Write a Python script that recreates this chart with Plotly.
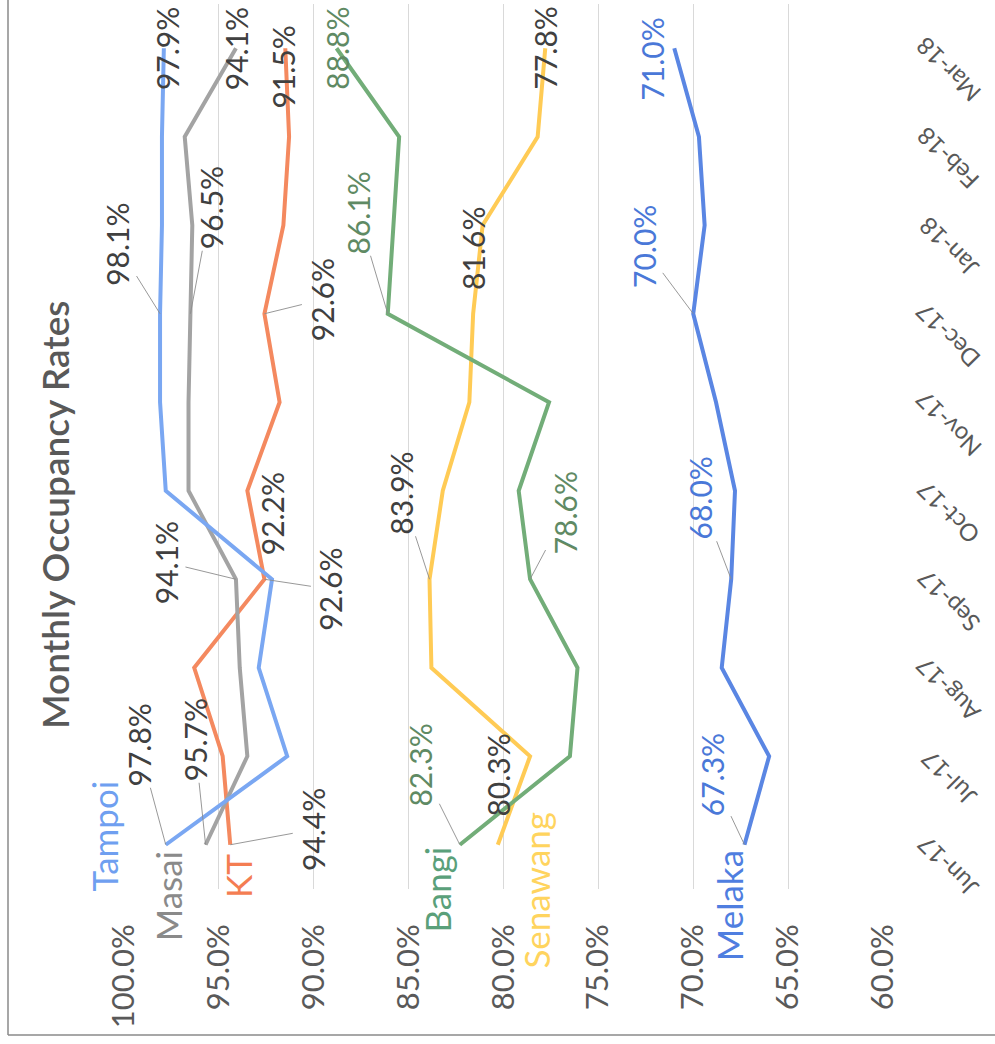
import plotly.graph_objects as go

# ---- data -------------------------------------------------------------
months = ["Jun-17", "Jul-17", "Aug-17", "Sep-17", "Oct-17",
          "Nov-17", "Dec-17", "Jan-18", "Feb-18", "Mar-18"]

tampoi = [97.8, 91.4, 92.9, 92.2, 97.8, 98.1, 98.1, 98.0, 98.0, 97.9]
masai = [95.7, 93.5, 93.9, 94.1, 96.6, 96.6, 96.5, 96.4, 96.8, 94.1]
kt = [94.4, 94.8, 96.3, 92.6, 93.5, 91.8, 92.6, 91.6, 91.3, 91.5]
bangi = [82.3, 76.5, 76.1, 78.6, 79.2, 77.6, 86.1, 85.8, 85.5, 88.8]
senawang = [80.3, 78.6, 83.8, 83.9, 83.2, 81.8, 81.6, 81.1, 78.2, 77.8]
melaka = [67.3, 66.0, 68.5, 68.0, 67.8, 68.8, 70.0, 69.4, 69.7, 71.0]

series_names = ["Tampoi", "Masai", "KT", "Bangi", "Senawang", "Melaka"]
series_values = [tampoi, masai, kt, bangi, senawang, melaka]

value_ticks = [60, 65, 70, 75, 80, 85, 90, 95, 100]

# ---- styling ----------------------------------------------------------
FONT = "Lato"
W, H = 995, 1044
ML, MR, MT, MB = 124, 112, 4, 155
PW, PH = W - ML - MR, H - MT - MB

line_colors = {
    "Tampoi": "#7aa7f2",
    "Masai": "#a3a3a3",
    "KT": "#f4895f",
    "Bangi": "#72ad78",
    "Senawang": "#ffcb55",
    "Melaka": "#5a86e3",
}
name_colors = {
    "Tampoi": "#6f9ff0",
    "Masai": "#8a8a8a",
    "KT": "#f47d52",
    "Bangi": "#5aa07a",
    "Senawang": "#ffd45e",
    "Melaka": "#4f7ee0",
}
value_label_colors = {
    "Tampoi": "#404040",
    "Masai": "#404040",
    "KT": "#404040",
    "Bangi": "#5f8a64",
    "Senawang": "#404040",
    "Melaka": "#4a78d8",
}

# value-label placement: (month index, dx px, dy px, leader line)
label_place = {
    "Tampoi": [(0, -27, -100, True), (3, 0, -65, False), (6, -43, -69, True), (9, 3, 0, False)],
    "Masai": [(0, -11, -105, True), (3, -70, -17, True), (6, 20, -106, True), (9, 0, 0, False)],
    "KT": [(0, 82, -15, True), (3, 66, 10, True), (6, 57, -14, True), (9, -2, 19, False)],
    "Bangi": [(0, -40, -80, True), (3, 35, -66, True), (6, -30, -101, True), (9, 1, 0, False)],
    "Senawang": [(0, 0, -70, False), (3, -28, -86, True), (6, 0, -65, False), (9, 0, 0, False)],
    "Melaka": [(0, -33, -70, True), (3, -31, -81, True), (6, -50, -67, True), (9, -22, 11, False)],
}
# series-name placement relative to the first point: (dx px, dy px)
name_place = {
    "Tampoi": (-62, -9),
    "Masai": (-38, 52),
    "KT": (7, 31),
    "Bangi": (-23, 45),
    "Senawang": (38, 45),
    "Melaka": (-16, 61),
}


def px_to_paper(x, y):
    return (x - ML) / PW, (H - MB - y) / PH


fig = go.Figure()

for name, vals in list(zip(series_names, series_values))[::-1]:
    fig.add_trace(go.Scatter(
        x=vals, y=months, mode="lines", name=name,
        line=dict(color=line_colors[name], width=4),
        showlegend=False, hoverinfo="skip",
    ))

annotations = []

# value labels
for name, vals in zip(series_names, series_values):
    for idx, dx, dy, leader in label_place[name]:
        a = dict(
            x=vals[idx], y=months[idx], xref="x", yref="y",
            text=f"{vals[idx]:.1f}%", textangle=-90,
            font=dict(family=FONT, size=30, color=value_label_colors[name]),
        )
        if leader:
            a.update(showarrow=True, ax=dx, ay=dy, arrowhead=0,
                     arrowwidth=0.9, arrowcolor="#8c8c8c", standoff=0)
        else:
            a.update(showarrow=False, xshift=dx, yshift=-dy)
        annotations.append(a)

# series names next to the first point
for name, vals in zip(series_names, series_values):
    dx, dy = name_place[name]
    annotations.append(dict(
        x=vals[0], y=months[0], xref="x", yref="y", text=name,
        textangle=-90, showarrow=False, xshift=dx, yshift=-dy,
        font=dict(family=FONT, size=35, color=name_colors[name]),
    ))

# month labels along the category axis
mx, _ = px_to_paper(948, 0)
for m in months:
    annotations.append(dict(
        x=mx, y=m, xref="paper", yref="y", text=m, textangle=-135,
        xanchor="center", yanchor="middle",
        showarrow=False, yshift=-22,
        font=dict(family=FONT, size=24, color="#595959"),
    ))

# chart title
tx, ty = px_to_paper(54, 515)
annotations.append(dict(
    x=tx, y=ty, xref="paper", yref="paper", text="Monthly Occupancy Rates",
    textangle=-90, showarrow=False, xanchor="center", yanchor="middle",
    font=dict(family=FONT, size=37, color="#595959", weight=600),
))

# outer chart frame (left and bottom edges)
fl, fb = px_to_paper(8, 1035)
ftop = px_to_paper(0, -20)[1]
fright = px_to_paper(1020, 0)[0]
shapes = [
    dict(type="line", xref="paper", yref="paper", x0=fl, x1=fl, y0=fb, y1=ftop,
         line=dict(color="#8a8a8a", width=1.5)),
    dict(type="line", xref="paper", yref="paper", x0=fl, x1=fright, y0=fb, y1=fb,
         line=dict(color="#8a8a8a", width=1.5)),
]

fig.update_layout(
    width=W, height=H,
    margin=dict(l=ML, r=MR, t=MT, b=MB),
    paper_bgcolor="white", plot_bgcolor="white",
    annotations=annotations, shapes=shapes,
    xaxis=dict(
        range=[100, 60], tickvals=value_ticks,
        ticktext=[f"{v:.1f}%" for v in value_ticks],
        tickangle=-90, ticklabelstandoff=28,
        tickfont=dict(family=FONT, size=31, color="#595959"),
        showgrid=True, gridcolor="#d9d9d9", gridwidth=1,
        zeroline=False, showline=False, ticks="",
    ),
    yaxis=dict(
        type="category", categoryorder="array", categoryarray=months,
        range=[-0.5, 9.5], showticklabels=False, showgrid=False,
        zeroline=False, showline=False, ticks="",
    ),
)

fig.write_html("out.html")
